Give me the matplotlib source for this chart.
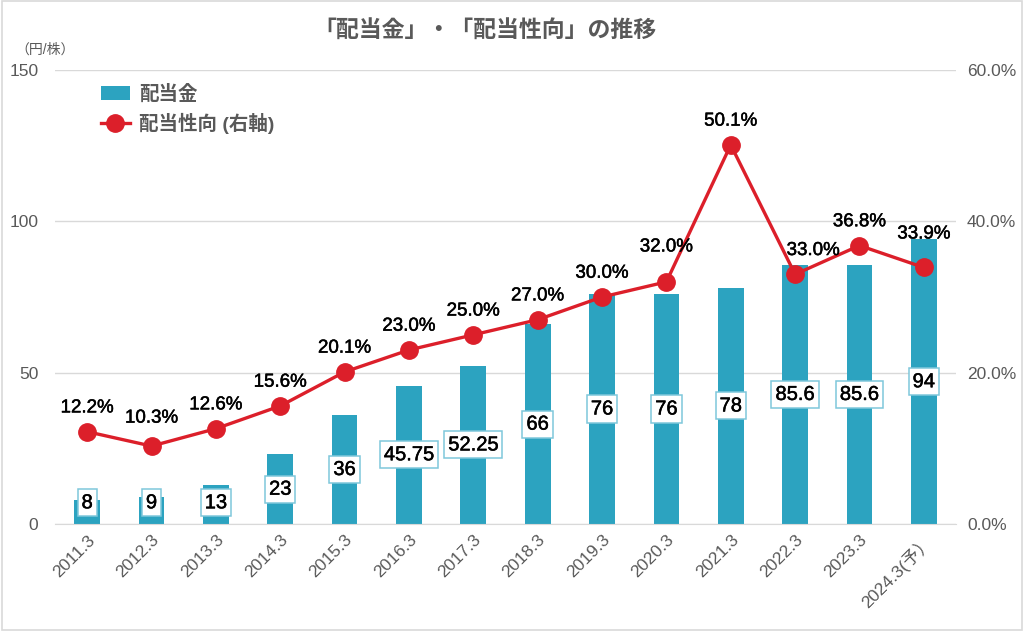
import matplotlib
matplotlib.use("Agg")
import matplotlib.pyplot as plt
import matplotlib.patheffects as pe
from matplotlib.patches import Rectangle
from matplotlib.lines import Line2D
from matplotlib.patches import Patch

plt.rcParams['font.family'] = ['Liberation Sans', 'Noto Sans CJK JP', 'DejaVu Sans']

categories = ["2011.3", "2012.3", "2013.3", "2014.3", "2015.3", "2016.3", "2017.3",
              "2018.3", "2019.3", "2020.3", "2021.3", "2022.3", "2023.3", "2024.3(予）"]
dividends = [8, 9, 13, 23, 36, 45.75, 52.25, 66, 76, 76, 78, 85.6, 85.6, 94]
dividend_labels = ["8", "9", "13", "23", "36", "45.75", "52.25", "66", "76", "76", "78", "85.6", "85.6", "94"]
payout = [12.2, 10.3, 12.6, 15.6, 20.1, 23.0, 25.0, 27.0, 30.0, 32.0, 50.1, 33.0, 36.8, 33.9]
left_ticks = [0, 50, 100, 150]
right_ticks = [0, 20, 40, 60]

BAR = "#2CA3C0"
LINE = "#DC1F2A"
GRAY = "#595959"
GRID = "#D9D9D9"

# label offset tweaks (points) to avoid overlaps, as in the original
label_dx = {11: 13}
label_dy = {1: 3, 9: 8, 13: 7}

semi = [pe.withStroke(linewidth=0.35, foreground="black")]

fig = plt.figure(figsize=(10.24, 6.31), dpi=100)
fig.patches.append(Rectangle((0.002, 0.002), 0.996, 0.996, transform=fig.transFigure,
                             fill=False, edgecolor="#D9D9D9", lw=1.2))
ax = fig.add_axes([55/1024, 1-524/631, (956-55)/1024, (524-70)/631])
x = list(range(len(categories)))

ax.bar(x, dividends, width=0.4, color=BAR, zorder=2)
ax.set_xlim(-0.5, len(categories)-0.5)
ax.set_ylim(0, 150)
ax.set_yticks(left_ticks)
ax.set_yticklabels([str(t) for t in left_ticks])
ax.yaxis.grid(True, color=GRID, lw=1)
ax.set_axisbelow(True)
for s in ["top", "right", "left"]:
    ax.spines[s].set_visible(False)
ax.spines["bottom"].set_color(GRID)
ax.tick_params(axis="y", length=0, pad=12, labelsize=12.5, labelcolor=GRAY)
ax.tick_params(axis="x", length=0, pad=6, labelsize=12.5, labelcolor=GRAY)
ax.set_xticks(x)
ax.set_xticklabels(categories, rotation=45, ha="right", va="top", rotation_mode="anchor")

for xi, v, lab in zip(x, dividends, dividend_labels):
    ax.text(xi, max(v/2, 7), lab, ha="center", va="center", fontsize=14.5,
            color="black", zorder=5, path_effects=semi,
            bbox=dict(boxstyle="square,pad=0.2", fc="white", ec="#7FC7DB", lw=1.1))

ax2 = ax.twinx()
ax2.set_ylim(0, 60)
ax2.set_yticks(right_ticks)
ax2.set_yticklabels([f"{t:.1f}%" for t in right_ticks])
ax2.tick_params(axis="y", length=0, pad=8, labelsize=12.5, labelcolor=GRAY)
for s in ["top", "right", "left", "bottom"]:
    ax2.spines[s].set_visible(False)
ax2.plot(x, payout, color=LINE, lw=2.4, marker="o", markersize=12.5, zorder=4)
for i, (xi, p) in enumerate(zip(x, payout)):
    ax2.annotate(f"{p:.1f}%", (xi, p), xytext=(label_dx.get(i, 0), 11 + label_dy.get(i, 0)),
                 textcoords="offset points", ha="center", va="bottom", fontsize=13.5,
                 color="black", zorder=6, path_effects=semi)

fig.text(485/1024, 1-30/631, "「配当金」・「配当性向」の推移", ha="center", va="center",
         fontsize=16.5, fontweight="bold", color=GRAY)
fig.text(45/1024, 1-50/631, "（円/株）", ha="center", va="center", fontsize=10, color=GRAY)

handles = [Patch(facecolor=BAR, edgecolor="none"),
           Line2D([0], [0], color=LINE, lw=2.4, marker="o", markersize=12.5)]
leg = ax.legend(handles, ["配当金", "配当性向 (右軸)"], loc="upper left",
                bbox_to_anchor=(0.038, 0.993), frameon=False, prop={"size": 14, "weight": "bold"},
                handlelength=1.5, handleheight=0.75, labelspacing=0.45, handletextpad=0.45,
                borderaxespad=0.2)
for t in leg.get_texts():
    t.set_color(GRAY)

fig.savefig("out.png", dpi=100)
